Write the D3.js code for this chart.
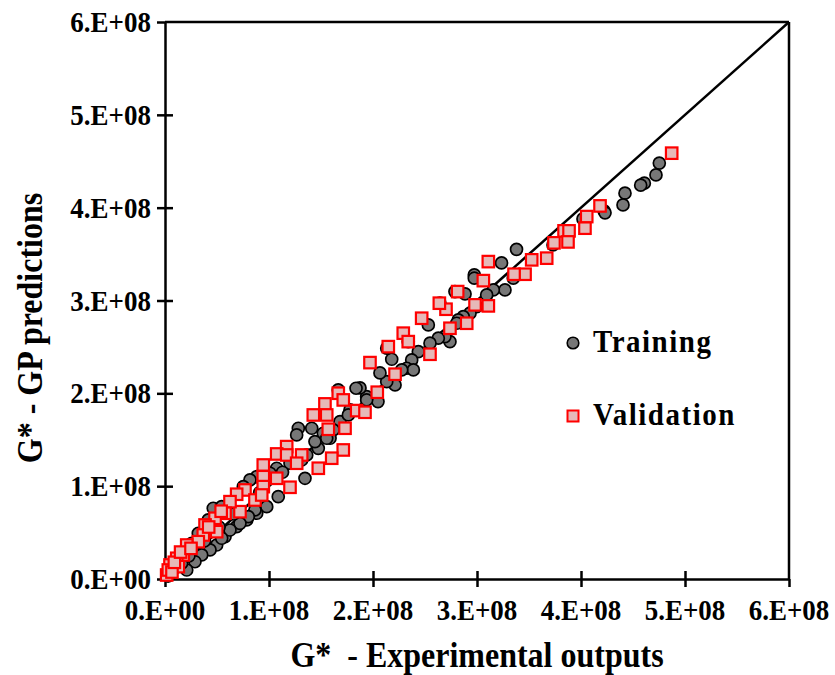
<!DOCTYPE html>
<html><head><meta charset="utf-8">
<script src="https://cdn.jsdelivr.net/npm/d3@7"></script>
<style>body{margin:0;background:#fff}svg{display:block}</style>
</head><body><svg id="c" width="835" height="675"></svg>
<script>
// values in units of 1e8
const xTicks = [0,1,2,3,4,5,6];
const yTicks = [0,1,2,3,4,5,6];
const xTickLabels = ["0.E+00","1.E+08","2.E+08","3.E+08","4.E+08","5.E+08","6.E+08"];
const yTickLabels = ["0.E+00","1.E+08","2.E+08","3.E+08","4.E+08","5.E+08","6.E+08"];
const seriesNames = ["Training","Validation"];
const xTitle = "G*  - Experimental outputs";
const yTitle = "G* - GP predictions";
const lineOneToOne = [[0,0],[6,6]];

const trainingX = [
 4.753,4.721,4.609,4.574,4.423,4.404,4.221,4.231,4.019,3.731,
 3.380,3.236,2.974,2.974,3.349,3.269,3.157,3.093,2.885,2.788,
 2.997,2.933,2.868,2.820,2.805,2.644,2.532,2.740,2.692,2.628,
 2.548,2.436,2.372,2.339,2.324,2.388,2.276,2.180,2.132,2.212,
 2.132,2.067,2.048,1.939,1.875,1.939,1.837,1.666,1.779,1.683,
 1.763,1.618,1.587,1.522,1.555,1.474,1.411,1.282,1.266,1.442,
 1.363,1.314,1.202,1.346,1.074,1.010,1.089,0.978,0.882,0.882,
 0.817,0.753,0.786,0.689,0.577,0.497,0.433,0.353,0.288,0.209,
 0.865,0.801,0.721,0.625,0.545,0.464,0.545,0.416,0.320,0.257,
 0.144,0.096,0.048,0.029,0.160,0.230,0.380,0.520,0.660,0.910,
 1.130];
const trainingY = [
 4.480,4.353,4.264,4.242,4.156,4.030,3.966,3.944,3.879,3.599,
 3.551,3.405,3.276,3.240,3.240,3.114,3.114,3.060,3.071,3.096,
 2.934,2.863,2.826,2.791,2.755,2.971,2.737,2.557,2.611,2.594,
 2.540,2.449,2.360,2.557,2.270,2.252,2.252,2.367,2.486,2.091,
 2.126,2.220,1.911,1.964,2.058,1.929,2.055,2.037,1.821,1.695,
 1.767,1.606,1.516,1.570,1.516,1.408,1.624,1.624,1.552,1.480,
 1.336,1.282,1.247,1.085,1.193,1.139,0.887,0.779,0.708,1.102,
 1.067,0.995,0.636,0.564,0.456,0.366,0.313,0.259,0.186,0.097,
 0.744,0.671,0.600,0.528,0.439,0.762,0.779,0.636,0.492,0.385,
 0.205,0.119,0.054,0.032,0.170,0.250,0.410,0.560,0.700,0.930,
 1.150];

const validationX = [
 4.872,4.183,4.055,4.038,3.837,3.885,3.875,3.740,3.670,3.526,
 3.462,3.356,3.109,3.061,3.109,2.981,2.901,2.740,2.814,2.702,
 2.638,2.468,2.291,2.339,2.147,2.548,2.212,2.041,1.971,1.666,
 1.714,1.538,1.426,1.555,1.843,1.923,1.570,1.731,1.170,1.074,
 1.170,1.314,1.266,1.714,1.603,1.474,0.945,0.945,1.074,0.945,
 1.202,0.769,0.689,0.865,0.721,0.930,0.625,0.577,0.481,0.385,
 0.497,0.368,0.320,0.209,0.176,0.113,0.128,0.048,0.016,0.032,
 0.067,0.090,0.150,0.250,0.420,0.540];
const validationY = [
 4.587,4.019,3.904,3.779,3.750,3.750,3.631,3.621,3.456,3.438,
 3.283,3.283,3.419,3.214,2.942,2.953,2.755,2.701,3.096,2.906,
 2.971,2.809,2.648,2.557,2.503,2.421,2.206,2.012,2.331,2.001,
 1.929,1.886,1.767,1.767,1.814,1.796,1.613,1.624,1.426,1.347,
 1.336,1.336,1.247,1.390,1.301,1.193,1.228,1.102,1.085,0.995,
 0.988,0.959,0.913,0.851,0.725,0.905,0.833,0.708,0.654,0.582,
 0.510,0.474,0.402,0.366,0.259,0.223,0.133,0.151,0.043,0.097,
 0.075,0.180,0.290,0.330,0.560,0.730];

const svg = d3.select("#c");
const L=165,R=789,T=22,B=579;
const x = d3.scaleLinear().domain([0,6]).range([L,R]);
const y = d3.scaleLinear().domain([0,6]).range([B,T]);
const FONT = "'Liberation Serif','Times New Roman',serif";
const SY = 1.1;

// frame top/right
svg.append("line").attr("x1",L).attr("x2",R).attr("y1",T).attr("y2",T).attr("stroke","#000").attr("stroke-width",2.5);
svg.append("line").attr("x1",R).attr("x2",R).attr("y1",T).attr("y2",B).attr("stroke","#000").attr("stroke-width",2.5);

// axes with crossing ticks
const xAxis = svg.append("g").attr("transform",`translate(0,${B})`)
  .call(d3.axisBottom(x).tickValues(xTicks).tickSize(8).tickSizeOuter(0).tickFormat(""));
xAxis.selectAll(".tick line").attr("y1",-8).attr("y2",8);
const yAxis = svg.append("g").attr("transform",`translate(${L},0)`)
  .call(d3.axisLeft(y).tickValues(yTicks).tickSize(8).tickSizeOuter(0).tickFormat(""));
yAxis.selectAll(".tick line").attr("x1",-8).attr("x2",8);
svg.selectAll(".domain, .tick line").attr("stroke","#000").attr("stroke-width",2.5);
xAxis.selectAll(".tick").filter(d=>d===0||d===6).select("line").attr("y1",0);
yAxis.selectAll(".tick").filter(d=>d===0||d===6).select("line").attr("x2",0);

// tick labels
svg.append("g").selectAll("g").data(xTicks).join("g")
  .attr("transform",(d)=>`translate(${x(d)},${B+41}) scale(1,${SY})`)
  .append("text").attr("text-anchor","middle")
  .attr("font-family",FONT).attr("font-weight","bold").attr("font-size",27)
  .text((d,i)=>xTickLabels[i]);
svg.append("g").selectAll("g").data(yTicks).join("g")
  .attr("transform",(d)=>`translate(${L-14},${y(d)+10}) scale(1,${SY})`)
  .append("text").attr("text-anchor","end")
  .attr("font-family",FONT).attr("font-weight","bold").attr("font-size",27)
  .text((d,i)=>yTickLabels[i]);

// titles
svg.append("g").attr("transform",`translate(${(L+R)/2},${667}) scale(1,${SY})`)
  .append("text").attr("text-anchor","middle").attr("font-family",FONT).attr("font-weight","bold")
  .attr("font-size",32).style("white-space","pre").text(xTitle);
svg.append("g").attr("transform",`translate(${42},${328}) rotate(-90) scale(1,${SY})`)
  .append("text").attr("text-anchor","middle").attr("font-family",FONT).attr("font-weight","bold")
  .attr("font-size",32).text(yTitle);

// 1:1 line
svg.append("path").attr("d",d3.line().x(d=>x(d[0])).y(d=>y(d[1]))(lineOneToOne))
  .attr("stroke","#000").attr("stroke-width",2.5).attr("fill","none");

// training
const tr = trainingX.map((v,i)=>[v,trainingY[i]]);
svg.append("g").selectAll("circle").data(tr).join("circle")
  .attr("cx",d=>x(d[0])).attr("cy",d=>y(d[1])).attr("r",6)
  .attr("fill","#777777").attr("stroke","#000").attr("stroke-width",1.7);
// validation
const va = validationX.map((v,i)=>[v,validationY[i]]);
const S=11.5;
svg.append("g").selectAll("rect").data(va).join("rect")
  .attr("x",d=>x(d[0])-S/2).attr("y",d=>y(d[1])-S/2).attr("width",S).attr("height",S)
  .attr("fill","#e6b9b8").attr("stroke","#ff0000").attr("stroke-width",2.2);

// legend
const lg = svg.append("g");
lg.append("circle").attr("cx",573).attr("cy",343).attr("r",5.8)
  .attr("fill","#777777").attr("stroke","#000").attr("stroke-width",1.6);
lg.append("rect").attr("x",573-5.5).attr("y",416-5.5).attr("width",11).attr("height",11)
  .attr("fill","#e6b9b8").attr("stroke","#ff0000").attr("stroke-width",2);
[[seriesNames[0],352],[seriesNames[1],425]].forEach(([t,yy])=>{
  lg.append("g").attr("transform",`translate(593,${yy}) scale(1,${SY})`)
    .append("text").attr("font-family",FONT).attr("font-weight","bold").attr("font-size",29)
    .attr("letter-spacing",1.5).text(t);
});
</script></body></html>
